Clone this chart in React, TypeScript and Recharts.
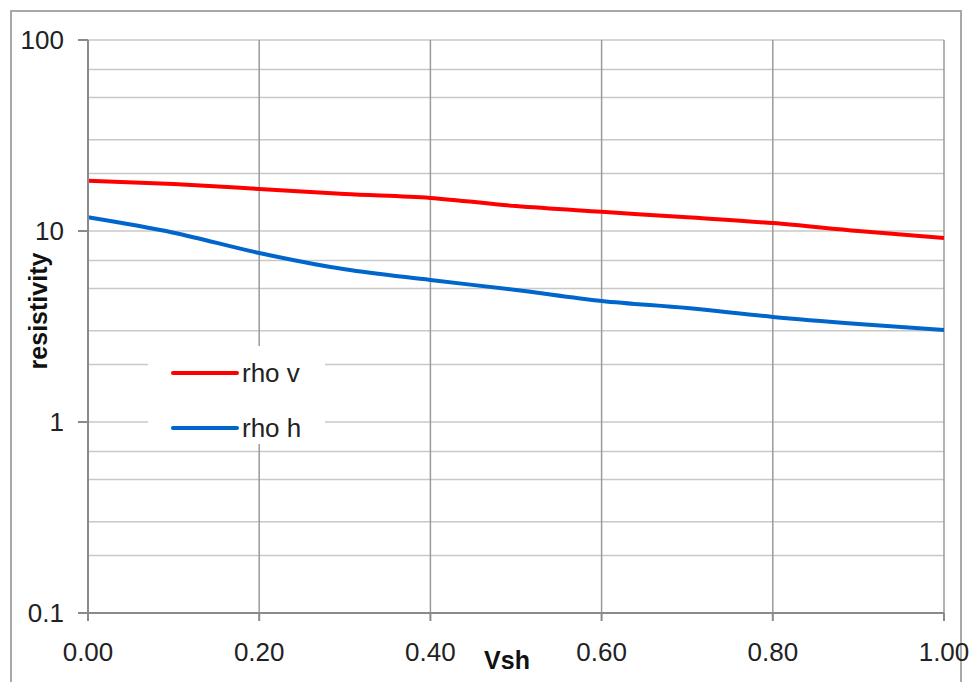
import React from 'react';
import {
  LineChart,
  Line,
  XAxis,
  YAxis,
  CartesianGrid,
} from 'recharts';

const vsh = [0, 0.1, 0.2, 0.3, 0.4, 0.5, 0.6, 0.7, 0.8, 0.9, 1.0];
const rhoV = [18.3, 17.6, 16.6, 15.6, 14.9, 13.5, 12.6, 11.8, 11.0, 10.0, 9.2];
const rhoH = [11.8, 9.8, 7.67, 6.3, 5.54, 4.91, 4.3, 3.95, 3.55, 3.26, 3.03];

const xTicks = [0, 0.2, 0.4, 0.6, 0.8, 1.0];
const yTicks = [0.1, 1, 10, 100];
const gridY = [
  0.1, 0.2, 0.3, 0.4, 0.5, 0.6, 0.7, 0.8, 0.9,
  1, 2, 3, 4, 5, 6, 7, 8, 9,
  10, 20, 30, 40, 50, 60, 70, 80, 90, 100,
];

const series = [
  { key: 'rhoV', name: 'rho v', color: '#ff0000' },
  { key: 'rhoH', name: 'rho h', color: '#0066cc' },
];

const data = vsh.map((v, i) => ({ vsh: v, rhoV: rhoV[i], rhoH: rhoH[i] }));

const FONT = '"Liberation Sans", Arial, sans-serif';
const TICK = { fill: '#222', fontSize: 26, fontFamily: FONT };

export default function App() {
  return (
    <div style={{ position: 'fixed', left: 0, top: 0, width: 975, height: 682, overflow: 'hidden', background: '#fff' }}>
      <div style={{ position: 'absolute', left: 10, top: 10, width: 948, height: 700, border: '2px solid #a8a8a8' }} />
      <div style={{ position: 'absolute', left: 0, top: 0 }}>
        <LineChart width={975} height={682} data={data} margin={{ top: 40, right: 31, left: 0, bottom: 29 }}>
          <CartesianGrid stroke="#c8c8c8" strokeWidth={1.5} horizontalValues={gridY} vertical={false} />
          <CartesianGrid stroke="#9a9a9a" strokeWidth={1.5} horizontal={false} verticalValues={xTicks} />
          <XAxis
            dataKey="vsh"
            type="number"
            domain={[0, 1]}
            ticks={xTicks}
            tickFormatter={(v: number) => v.toFixed(2)}
            height={40}
            tickSize={8}
            tickMargin={22}
            stroke="#8a8a8a"
            strokeWidth={2}
            tick={TICK}
          />
          <YAxis
            scale="log"
            type="number"
            domain={[0.1, 100]}
            ticks={yTicks}
            allowDataOverflow
            width={88}
            tickSize={10}
            tickMargin={14}
            stroke="#8a8a8a"
            strokeWidth={2}
            tick={TICK}
          />
          {series.map((s) => (
            <Line
              key={s.key}
              type="monotone"
              dataKey={s.key}
              name={s.name}
              stroke={s.color}
              strokeWidth={4}
              dot={false}
              isAnimationActive={false}
            />
          ))}
        </LineChart>
      </div>
      <div style={{ position: 'absolute', left: 148, top: 346, width: 177, height: 98, background: '#fff' }}>
        {series.map((s, i) => (
          <div key={s.key} style={{ position: 'absolute', left: 0, top: 12 + i * 55, height: 30, display: 'flex', alignItems: 'center' }}>
            <span style={{ display: 'inline-block', width: 68, height: 4, background: s.color, marginLeft: 23, marginRight: 3, borderRadius: 2 }} />
            <span style={{ fontFamily: FONT, fontSize: 26, color: '#222' }}>{s.name}</span>
          </div>
        ))}
      </div>
      <div style={{ position: 'absolute', left: 38, top: 311, transform: 'translate(-50%, -50%) rotate(-90deg)', fontFamily: FONT, fontWeight: 'bold', fontSize: 25, color: '#111', whiteSpace: 'nowrap' }}>
        resistivity
      </div>
      <div style={{ position: 'absolute', left: 507, top: 660, transform: 'translate(-50%, -50%)', fontFamily: FONT, fontWeight: 'bold', fontSize: 25, color: '#111' }}>
        Vsh
      </div>
    </div>
  );
}
